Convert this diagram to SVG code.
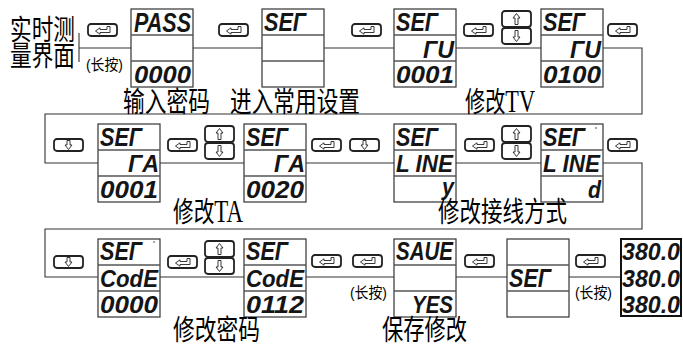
<svg xmlns="http://www.w3.org/2000/svg" width="683" height="347" viewBox="0 0 683 347">
<style>
.box{fill:#fff;stroke:#333;stroke-width:1.2}
.box5{fill:#fff;stroke:#111;stroke-width:2}
.div{stroke:#555;stroke-width:1.6}
.btn{fill:#fff;stroke:#222;stroke-width:1.8}
.ico{fill:#fff;stroke:#222;stroke-width:0.9}
.con{fill:none;stroke:#333;stroke-width:1.1}
.seg{font-family:"Liberation Sans",Arial,sans-serif;font-style:italic;font-weight:bold;fill:#151515}
.cn{font-family:"Liberation Serif","Noto Sans CJK SC",serif;font-size:28px;fill:#000}
.cjk{font-family:"Noto Sans CJK SC",sans-serif}
.lat{font-size:31px}
.lp{font-family:"Liberation Sans","Noto Sans CJK SC",sans-serif;font-size:15px;fill:#000}
</style>
<defs>
<g id="enter">
<rect class="btn" x="1" y="1" width="29" height="12" rx="3"/>
<path class="ico" d="M20,3.5 H23 V9.5 H13 V11.2 L8.5,8 L13,4.8 V6.5 H20 Z"/>
</g>
<g id="down">
<rect class="btn" x="1" y="1" width="29" height="12" rx="3"/>
<path class="ico" d="M14,2.5 H17 V7 H19 L15.5,11.5 L12,7 H14 Z"/>
</g>
<g id="updown">
<rect class="btn" x="1" y="1" width="29" height="16" rx="3"/>
<rect class="btn" x="1" y="18" width="29" height="16" rx="3"/>
<path class="ico" d="M15.5,3.5 L19,8 H17 V14.5 H14 V8 H12 Z"/>
<path class="ico" d="M14,20.5 H17 V27 H19 L15.5,31.5 L12,27 H14 Z"/>
</g>
</defs>

<g id="connectors">
<path class="con" d="M79,33 V62 M79,48 H131 M193,48 H262 M324,48 H394 M456,48 H541 M603,48 H642 V114 H45 V163 H98"/>
<path class="con" d="M160,163 H244 M306,163 H394 M456,163 H541 M603,163 H642 V229 H45 V277 H98"/>
<path class="con" d="M160,277 H244 M306,277 H394 M456,277 H507 M569,277 H621"/>
</g>

<g id="buttons">
<use href="#enter" x="87" y="23"/>
<use href="#enter" x="218" y="23"/>
<use href="#enter" x="351" y="23"/>
<use href="#enter" x="463" y="23"/>
<use href="#updown" x="501" y="10"/>
<use href="#enter" x="607" y="23"/>
<use href="#down" x="53" y="138"/>
<use href="#enter" x="167" y="138"/>
<use href="#updown" x="204" y="125"/>
<use href="#enter" x="311" y="138"/>
<use href="#down" x="349" y="138"/>
<use href="#enter" x="464" y="138"/>
<use href="#updown" x="501" y="125"/>
<use href="#enter" x="607" y="138"/>
<use href="#down" x="53" y="255"/>
<use href="#enter" x="167" y="255"/>
<use href="#updown" x="204" y="240"/>
<use href="#enter" x="311" y="254"/>
<use href="#enter" x="352" y="254"/>
<use href="#enter" x="464" y="254"/>
<use href="#enter" x="575" y="254"/>
</g>

<g id="n-live">
<text class="cn cjk" x="10" y="40" font-size="27" textLength="65" lengthAdjust="spacingAndGlyphs">实时测</text>
<text class="cn cjk" x="10" y="66" font-size="26" textLength="65" lengthAdjust="spacingAndGlyphs">量界面</text>
<text class="lp" x="86" y="70" textLength="37" lengthAdjust="spacingAndGlyphs">(长按)</text>
</g>

<g id="n-pass">
<rect class="box" x="131" y="9" width="62" height="78"/>
<line class="div" x1="131" y1="35" x2="193" y2="35"/><line class="div" x1="131" y1="61" x2="193" y2="61"/>
<text class="seg" x="134" y="32" font-size="27" textLength="57" lengthAdjust="spacingAndGlyphs">PASS</text>
<text class="seg" x="134" y="83" font-size="24" textLength="57" lengthAdjust="spacingAndGlyphs">0000</text>
<text class="cn cjk" x="123" y="112" textLength="87" lengthAdjust="spacingAndGlyphs">输入密码</text>
</g>

<g id="n-set">
<rect class="box" x="262" y="9" width="62" height="78"/>
<line class="div" x1="262" y1="35" x2="324" y2="35"/><line class="div" x1="262" y1="61" x2="324" y2="61"/>
<text class="seg" x="264" y="31" font-size="25" textLength="42" lengthAdjust="spacingAndGlyphs">SEΓ</text>
<text class="cn cjk" x="230" y="112" textLength="130" lengthAdjust="spacingAndGlyphs">进入常用设置</text>
</g>

<g id="n-tv1">
<rect class="box" x="394" y="9" width="62" height="78"/>
<line class="div" x1="394" y1="35" x2="456" y2="35"/><line class="div" x1="394" y1="61" x2="456" y2="61"/>
<text class="seg" x="396" y="31" font-size="25" textLength="42" lengthAdjust="spacingAndGlyphs">SEΓ</text>
<text class="seg" x="423" y="58" font-size="24" textLength="31" lengthAdjust="spacingAndGlyphs">ΓU</text>
<text class="seg" x="396" y="83" font-size="24" textLength="58" lengthAdjust="spacingAndGlyphs">0001</text>
</g>

<g id="n-tv2">
<rect class="box" x="541" y="9" width="62" height="78"/>
<line class="div" x1="541" y1="35" x2="603" y2="35"/><line class="div" x1="541" y1="61" x2="603" y2="61"/>
<text class="seg" x="543" y="31" font-size="25" textLength="42" lengthAdjust="spacingAndGlyphs">SEΓ</text>
<text class="seg" x="570" y="58" font-size="24" textLength="31" lengthAdjust="spacingAndGlyphs">ΓU</text>
<text class="seg" x="543" y="83" font-size="24" textLength="58" lengthAdjust="spacingAndGlyphs">0100</text>
<text class="cn" x="465" y="112" textLength="70" lengthAdjust="spacingAndGlyphs"><tspan class="cjk">修改</tspan><tspan class="lat">TV</tspan></text>
</g>

<g id="n-ta1">
<rect class="box" x="98" y="124" width="62" height="78"/>
<line class="div" x1="98" y1="150" x2="160" y2="150"/><line class="div" x1="98" y1="176" x2="160" y2="176"/>
<text class="seg" x="100" y="146" font-size="25" textLength="42" lengthAdjust="spacingAndGlyphs">SEΓ</text>
<text class="seg" x="128" y="172" font-size="24" textLength="31" lengthAdjust="spacingAndGlyphs">ΓA</text>
<text class="seg" x="100" y="198" font-size="24" textLength="58" lengthAdjust="spacingAndGlyphs">0001</text>
</g>

<g id="n-ta2">
<rect class="box" x="244" y="124" width="62" height="78"/>
<line class="div" x1="244" y1="150" x2="306" y2="150"/><line class="div" x1="244" y1="176" x2="306" y2="176"/>
<text class="seg" x="246" y="146" font-size="25" textLength="42" lengthAdjust="spacingAndGlyphs">SEΓ</text>
<text class="seg" x="274" y="172" font-size="24" textLength="31" lengthAdjust="spacingAndGlyphs">ΓA</text>
<text class="seg" x="246" y="198" font-size="24" textLength="58" lengthAdjust="spacingAndGlyphs">0020</text>
<text class="cn" x="173" y="222" textLength="70" lengthAdjust="spacingAndGlyphs"><tspan class="cjk">修改</tspan><tspan class="lat">TA</tspan></text>
</g>

<g id="n-line1">
<rect class="box" x="394" y="124" width="62" height="78"/>
<line class="div" x1="394" y1="150" x2="456" y2="150"/><line class="div" x1="394" y1="176" x2="456" y2="176"/>
<text class="seg" x="396" y="146" font-size="25" textLength="42" lengthAdjust="spacingAndGlyphs">SEΓ</text>
<text class="seg" x="396" y="172" font-size="24" textLength="57" lengthAdjust="spacingAndGlyphs">L INE</text>
<text class="seg" x="442" y="195" font-size="24" textLength="12" lengthAdjust="spacingAndGlyphs">y</text>
</g>

<g id="n-line2">
<rect class="box" x="541" y="124" width="62" height="78"/>
<line class="div" x1="541" y1="150" x2="603" y2="150"/><line class="div" x1="541" y1="176" x2="603" y2="176"/>
<text class="seg" x="543" y="146" font-size="25" textLength="42" lengthAdjust="spacingAndGlyphs">SEΓ</text>
<circle cx="596" cy="128" r="0.8" fill="#333"/>
<text class="seg" x="543" y="172" font-size="24" textLength="57" lengthAdjust="spacingAndGlyphs">L INE</text>
<text class="seg" x="588" y="198" font-size="24" textLength="13" lengthAdjust="spacingAndGlyphs">d</text>
<text class="cn cjk" x="438" y="222" textLength="129" lengthAdjust="spacingAndGlyphs">修改接线方式</text>
</g>

<g id="n-code1">
<rect class="box" x="98" y="239" width="62" height="78"/>
<line class="div" x1="98" y1="265" x2="160" y2="265"/><line class="div" x1="98" y1="291" x2="160" y2="291"/>
<text class="seg" x="100" y="260" font-size="25" textLength="42" lengthAdjust="spacingAndGlyphs">SEΓ</text>
<circle cx="154" cy="242" r="0.8" fill="#333"/>
<text class="seg" x="100" y="287" font-size="24" textLength="58" lengthAdjust="spacingAndGlyphs">CodE</text>
<text class="seg" x="100" y="313" font-size="24" textLength="58" lengthAdjust="spacingAndGlyphs">0000</text>
</g>

<g id="n-code2">
<rect class="box" x="244" y="239" width="62" height="78"/>
<line class="div" x1="244" y1="265" x2="306" y2="265"/><line class="div" x1="244" y1="291" x2="306" y2="291"/>
<text class="seg" x="246" y="260" font-size="25" textLength="42" lengthAdjust="spacingAndGlyphs">SEΓ</text>
<text class="seg" x="246" y="287" font-size="24" textLength="58" lengthAdjust="spacingAndGlyphs">CodE</text>
<text class="seg" x="246" y="313" font-size="24" textLength="58" lengthAdjust="spacingAndGlyphs">0112</text>
<text class="cn cjk" x="173" y="339.5" font-size="26" textLength="87" lengthAdjust="spacingAndGlyphs">修改密码</text>
</g>

<g id="n-save">
<rect class="box" x="394" y="239" width="62" height="78"/>
<line class="div" x1="394" y1="265" x2="456" y2="265"/><line class="div" x1="394" y1="291" x2="456" y2="291"/>
<text class="seg" x="396" y="260" font-size="25" textLength="57" lengthAdjust="spacingAndGlyphs">SAUE</text>
<text class="seg" x="412" y="313" font-size="24" textLength="41" lengthAdjust="spacingAndGlyphs">YES</text>
<text class="lp" x="350" y="298" textLength="37" lengthAdjust="spacingAndGlyphs">(长按)</text>
<text class="cn cjk" x="382" y="339.5" font-size="26" textLength="85" lengthAdjust="spacingAndGlyphs">保存修改</text>
</g>

<g id="n-set2">
<rect class="box" x="507" y="239" width="62" height="78"/>
<line class="div" x1="507" y1="265" x2="569" y2="265"/><line class="div" x1="507" y1="291" x2="569" y2="291"/>
<text class="seg" x="509" y="287" font-size="25" textLength="42" lengthAdjust="spacingAndGlyphs">SEΓ</text>
<text class="lp" x="575" y="298" textLength="37" lengthAdjust="spacingAndGlyphs">(长按)</text>
</g>

<g id="n-meas">
<rect class="box5" x="621" y="239" width="60" height="77"/>
<text class="seg" x="622" y="260" font-size="24" textLength="58" lengthAdjust="spacingAndGlyphs">380.0</text>
<text class="seg" x="622" y="287" font-size="24" textLength="58" lengthAdjust="spacingAndGlyphs">380.0</text>
<text class="seg" x="622" y="313" font-size="24" textLength="58" lengthAdjust="spacingAndGlyphs">380.0</text>
</g>
</svg>
